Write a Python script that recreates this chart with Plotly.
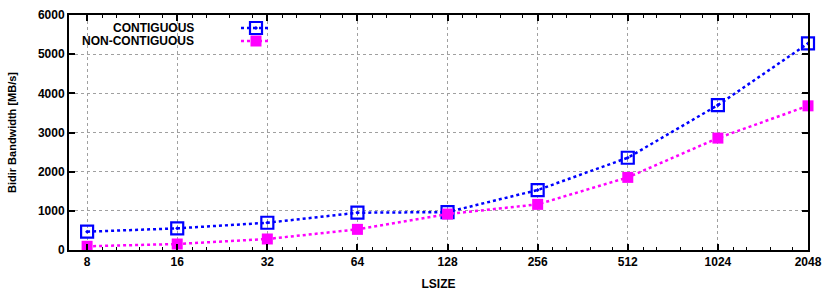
import math
import plotly.graph_objects as go

lsize = [8, 16, 32, 64, 128, 256, 512, 1024, 2048]
contiguous = [467, 553, 696, 952, 968, 1531, 2355, 3699, 5273]
non_contiguous = [95, 153, 281, 527, 918, 1165, 1854, 2857, 3681]
y_ticks = [0, 1000, 2000, 3000, 4000, 5000, 6000]

# minor ticks between the powers of two (as drawn by the original plot)
minor = [v * f for v in lsize[:-1] for f in (1.125, 1.25, 1.5, 1.78)]

FONT = "Liberation Sans"

# plot area in pixels (used to place the hand-made legend)
L, R, T, B = 69, 808, 15, 250


def px_x(x):
    return (x - L) / (R - L)


def px_y(y):
    return (B - y) / (B - T)


def main():
    fig = go.Figure(
        layout={
            "width": 830,
            "height": 291,
            "margin": dict(l=L, r=830 - R, t=T, b=291 - B, autoexpand=False),
            "plot_bgcolor": "white",
            "paper_bgcolor": "white",
            "font": dict(family=FONT, size=12, color="black"),
        }
    )

    fig.add_trace(
        go.Scatter(
            x=lsize, y=contiguous, name="", legend="legend",
            mode="lines+markers", cliponaxis=False,
            line=dict(color="#0000ff", width=2.5, dash="dot"),
            marker=dict(symbol="square-open-dot", size=12, color="#0000ff",
                        line=dict(width=2.2, color="#0000ff")),
            hovertemplate="%{x}: %{y}<extra>CONTIGUOUS</extra>",
        )
    )
    fig.add_trace(
        go.Scatter(
            x=lsize, y=non_contiguous, name="", legend="legend2",
            mode="lines+markers", cliponaxis=False,
            line=dict(color="#ff00ff", width=2.5, dash="dot"),
            marker=dict(symbol="square", size=11, color="#ff00ff"),
            hovertemplate="%{x}: %{y}<extra>NON-CONTIGUOUS</extra>",
        )
    )

    fig.update_xaxes(
        type="log",
        range=[math.log10(6.96), math.log10(2048)],
        tickvals=lsize, ticktext=[str(v) for v in lsize],
        ticks="inside", ticklen=6, tickwidth=1.5, tickcolor="black",
        showline=True, linecolor="black", linewidth=2, mirror="allticks",
        showgrid=True, gridcolor="#a0a0a0", griddash="dot", gridwidth=1,
        tickfont=dict(family=FONT, size=12, weight="bold"),
        title=dict(text="<b>LSIZE</b>", font=dict(size=12), standoff=11),
        minor=dict(tickvals=minor, ticks="inside", ticklen=3, tickcolor="black",
                   tickwidth=1, showgrid=False),
        zeroline=False,
    )
    fig.update_yaxes(
        range=[0, 6000], tickvals=y_ticks,
        ticks="inside", ticklen=6, tickwidth=1.5, tickcolor="black",
        showline=True, linecolor="black", linewidth=2, mirror="allticks",
        showgrid=True, gridcolor="#a0a0a0", griddash="dot", gridwidth=1,
        tickfont=dict(family=FONT, size=12, weight="bold"),
        title=dict(text="<b>Bidir Bandwidth [MB/s]</b>", font=dict(size=11), standoff=19),
        zeroline=False,
    )

    # one legend per series so the two rows sit close together
    leg = dict(xref="paper", yref="paper", xanchor="left", yanchor="middle",
               bgcolor="rgba(0,0,0,0)", itemwidth=30, font=dict(size=8))
    fig.update_layout(
        showlegend=True,
        legend=dict(leg, x=px_x(236), y=px_y(28)),
        legend2=dict(leg, x=px_x(236), y=px_y(41)),
    )
    # legend labels sit to the left of the samples, right-aligned
    for i, txt in enumerate(["CONTIGUOUS", "NON-CONTIGUOUS"]):
        fig.add_annotation(
            x=px_x(196), y=px_y(28 + i * 13), xref="paper", yref="paper",
            text=f"<b>{txt}</b>", showarrow=False,
            xanchor="right", yanchor="middle",
            font=dict(family=FONT, size=12, color="black"),
        )

    fig.write_html("out.html", config={"displayModeBar": False},
                   post_script="document.body.style.margin='0';")


if __name__ == "__main__":
    main()
